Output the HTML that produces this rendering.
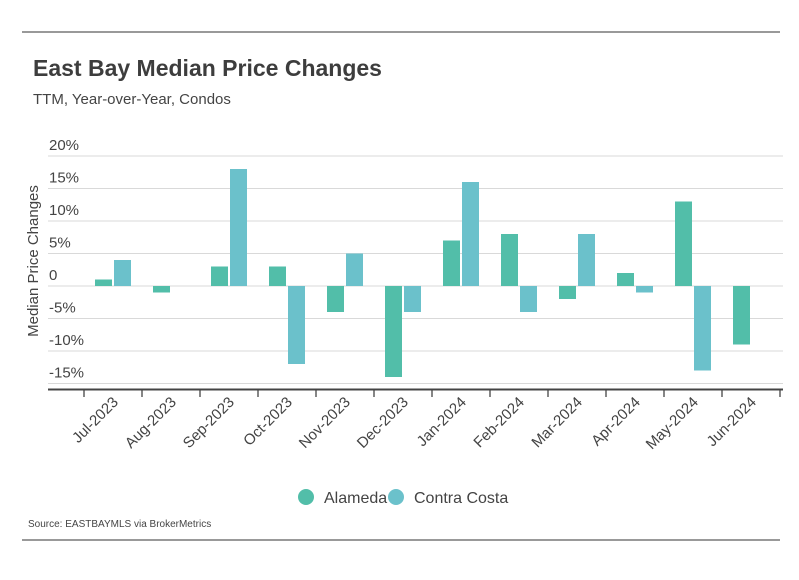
<!DOCTYPE html>
<html><head><meta charset="utf-8"><style>
body{margin:0;background:#fff;font-family:"Liberation Sans Narrow","Liberation Sans",sans-serif;color:#444}
svg text{font-family:"Liberation Sans Narrow","Liberation Sans",sans-serif}
</style></head><body>
<svg id="c" width="799" height="575" xmlns="http://www.w3.org/2000/svg">
<line x1="22" y1="32" x2="780" y2="32" stroke="#333" stroke-width="1"/>
<line x1="22" y1="540" x2="780" y2="540" stroke="#333" stroke-width="1"/>
<text x="33" y="76" font-size="23" font-weight="bold" fill="#3d3d3d">East Bay Median Price Changes</text>
<text x="33" y="104" font-size="15" fill="#444">TTM, Year-over-Year, Condos</text>
<text transform="translate(38,261) rotate(-90)" text-anchor="middle" font-size="15" fill="#444">Median Price Changes</text>
<g id="grid"></g><g id="bars"></g><g id="xaxis"></g>
<g>
<circle cx="306" cy="497" r="8" fill="#52bea9"/>
<text x="324" y="503" font-size="16" fill="#444">Alameda</text>
<circle cx="396" cy="497" r="8" fill="#6bc1cb"/>
<text x="414" y="503" font-size="16" fill="#444">Contra Costa</text>
</g>
<text x="28" y="527" font-size="10" fill="#444">Source:  EASTBAYMLS via BrokerMetrics</text>
</svg>
<script>
const categories=["Jul-2023","Aug-2023","Sep-2023","Oct-2023","Nov-2023","Dec-2023","Jan-2024","Feb-2024","Mar-2024","Apr-2024","May-2024","Jun-2024"];
const alameda=[1,-1,3,3,-4,-14,7,8,-2,2,13,-9];
const contraCosta=[4,0,18,-12,5,-4,16,-4,8,-1,-13,0];
const yTicks=[20,15,10,5,0,-5,-10,-15];
const yTickLabels=["20%","15%","10%","5%","0","-5%","-10%","-15%"];
const NS="http://www.w3.org/2000/svg";
const x0=84,step=58,plotL=48,plotR=783;
const y=v=>286-v*6.5;
const xc=i=>x0+step*(i+0.5);
function mk(t,a,p){const e=document.createElementNS(NS,t);for(const k in a)e.setAttribute(k,a[k]);p.appendChild(e);return e;}
const grid=document.getElementById('grid'),bars=document.getElementById('bars'),xa=document.getElementById('xaxis');
yTicks.forEach((v,i)=>{
 const l=mk('line',{x1:plotL,x2:plotR,y1:y(v),y2:y(v),stroke:'#d9d9d9','stroke-width':1},grid);
 
 
 const t=mk('text',{x:49,y:y(v)-6,'font-size':15,fill:'#444'},grid);
 t.textContent=yTickLabels[i];
 
 
});
function bar(v,x,col,name){
 if(v===0)return;
 const r=mk('rect',{x:x,width:17,y:Math.min(y(v),y(0)),height:Math.abs(y(v)-y(0)),fill:col},bars);
 
 
}
categories.forEach((c,i)=>{
 bar(alameda[i],xc(i)-18,'#52bea9','bar-alameda');
 bar(contraCosta[i],xc(i)+1,'#6bc1cb','bar-contra-costa');
 const t=mk('text',{transform:`translate(${xc(i)+6},403) rotate(-45)`,'text-anchor':'end','font-size':15,fill:'#444'},xa);
 t.textContent=c;
 
 
});
for(let k=0;k<=categories.length;k++){
 const tk=mk('line',{x1:x0+step*k,x2:x0+step*k,y1:389,y2:397,stroke:'#444','stroke-width':1.3},xa);
 
 
}
const ax=mk('line',{x1:plotL,x2:plotR,y1:389.5,y2:389.5,stroke:'#444','stroke-width':2},xa);


</script>
</body></html>
